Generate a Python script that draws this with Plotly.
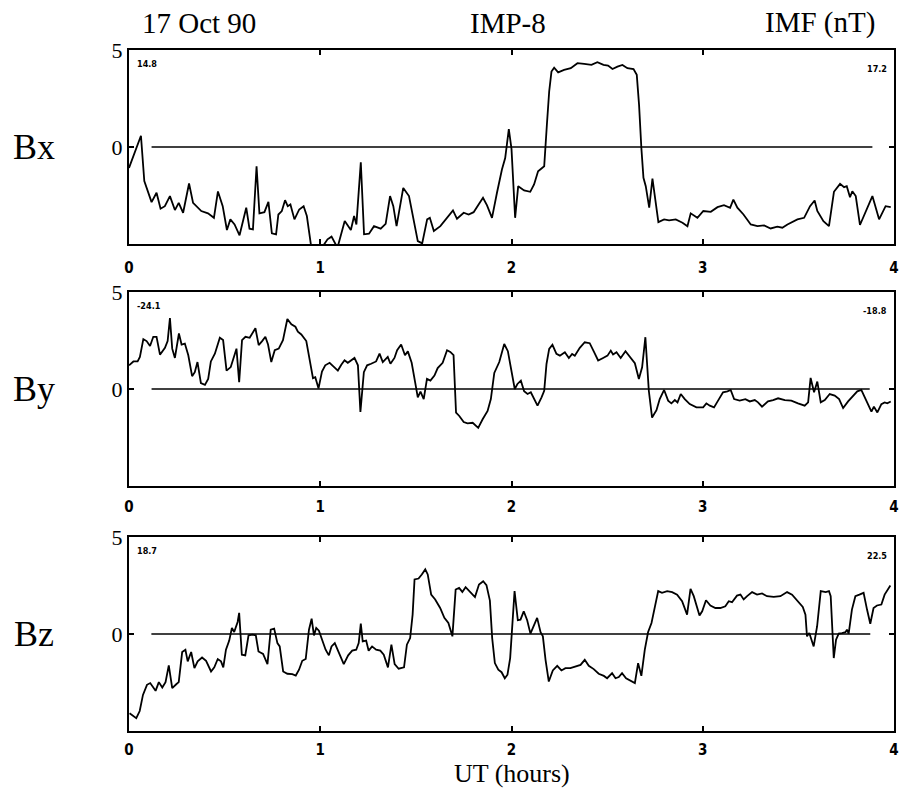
import plotly.graph_objects as go

# ---------------- data ----------------
bx_t = [0.0, 0.0625, 0.08, 0.118, 0.144, 0.165, 0.1875, 0.214, 0.24, 0.26, 0.283, 0.314, 0.335, 0.378,
        0.413, 0.444, 0.465, 0.49, 0.512, 0.53, 0.552, 0.578, 0.613, 0.63, 0.648, 0.667, 0.682, 0.708,
        0.729, 0.747, 0.769, 0.781, 0.799, 0.816, 0.83, 0.844, 0.865, 0.89, 0.913, 0.93, 0.951, 0.977,
        1.003, 1.038, 1.059, 1.09, 1.128, 1.16, 1.177, 1.189, 1.212, 1.229, 1.255, 1.281, 1.316, 1.342,
        1.365, 1.382, 1.399, 1.434, 1.464, 1.49, 1.51, 1.533, 1.559, 1.573, 1.594, 1.628, 1.663, 1.694,
        1.715, 1.75, 1.776, 1.802, 1.828, 1.851, 1.872, 1.898, 1.924, 1.95, 1.967, 1.986, 2.0,
        2.019, 2.035, 2.066, 2.098, 2.118, 2.139, 2.157, 2.171, 2.185, 2.197, 2.209, 2.223, 2.244, 2.275,
        2.31, 2.345, 2.38, 2.418, 2.449, 2.481, 2.505, 2.528, 2.554, 2.58, 2.606, 2.638, 2.655, 2.667,
        2.679, 2.69, 2.702, 2.72, 2.737, 2.754, 2.768, 2.798, 2.824, 2.859, 2.894, 2.92, 2.937, 2.972,
        3.003, 3.042, 3.077, 3.111, 3.143, 3.16, 3.181, 3.213, 3.251, 3.286, 3.321, 3.355, 3.39, 3.416,
        3.443, 3.495, 3.53, 3.561, 3.585, 3.599, 3.631, 3.66, 3.686, 3.718, 3.739, 3.753, 3.77, 3.782,
        3.8, 3.822, 3.852, 3.887, 3.922, 3.956, 3.983]
bx_v = [-1.08, 0.58, -1.76, -2.84, -2.36, -3.18, -3.05, -2.53, -3.25, -2.88, -3.39, -1.88, -2.88, -3.30,
        -3.42, -3.65, -2.29, -3.05, -4.28, -3.73, -3.99, -4.55, -3.13, -4.21, -4.25, -0.99, -3.42, -3.36,
        -2.83, -4.45, -4.50, -3.48, -3.30, -2.74, -3.05, -2.96, -3.73, -3.22, -3.05, -3.56, -5.02, -5.70,
        -5.27, -4.76, -4.62, -5.19, -3.82, -4.28, -3.56, -3.99, -0.79, -4.50, -4.47, -4.08, -4.21, -3.96,
        -2.53, -3.05, -4.08, -2.11, -2.53, -3.90, -4.85, -4.97, -3.73, -3.65, -4.33, -4.08, -3.65, -3.27,
        -3.70, -3.39, -3.48, -3.36, -2.96, -2.62, -3.01, -3.65, -2.36, -1.16, -0.57, 0.92, -0.10,
        -3.65, -2.02, -2.24, -2.31, -1.93, -1.25, -1.08, -0.99, 1.15, 2.86, 3.89, 4.09, 3.85, 3.97,
        4.06, 4.32, 4.28, 4.23, 4.37, 4.23, 4.20, 4.02, 4.14, 4.23, 4.06, 4.02, 3.72, 2.17,
        -0.05, -1.59, -2.02, -3.13, -1.63, -2.96, -3.87, -3.73, -3.78, -3.73, -3.90, -4.08, -3.42, -3.65,
        -3.30, -3.34, -3.10, -3.00, -3.13, -2.71, -3.13, -3.48, -3.99, -4.08, -4.04, -4.20, -4.11, -4.16,
        -3.99, -3.73, -3.65, -3.05, -2.76, -3.30, -3.82, -4.08, -2.31, -1.90, -2.07, -2.02, -2.59, -2.28,
        -2.53, -4.02, -3.30, -2.53, -3.73, -3.05, -3.10]

by_t = [0.0, 0.023, 0.045, 0.057, 0.075, 0.092, 0.11, 0.127, 0.144, 0.162, 0.188, 0.202, 0.214, 0.226,
        0.24, 0.261, 0.275, 0.292, 0.31, 0.33, 0.344, 0.358, 0.376, 0.397, 0.414, 0.428, 0.449, 0.475,
        0.492, 0.51, 0.532, 0.55, 0.562, 0.576, 0.591, 0.609, 0.631, 0.661, 0.678, 0.696, 0.713, 0.727,
        0.744, 0.762, 0.783, 0.805, 0.828, 0.849, 0.87, 0.883, 0.901, 0.927, 0.944, 0.962, 0.974, 0.991,
        1.009, 1.026, 1.049, 1.071, 1.092, 1.11, 1.127, 1.144, 1.179, 1.197, 1.21, 1.228, 1.245, 1.266,
        1.292, 1.31, 1.327, 1.353, 1.367, 1.388, 1.402, 1.423, 1.443, 1.458, 1.478, 1.496, 1.51, 1.524,
        1.541, 1.558, 1.576, 1.597, 1.614, 1.64, 1.663, 1.68, 1.697, 1.71, 1.727, 1.75, 1.77, 1.797,
        1.826, 1.849, 1.875, 1.892, 1.91, 1.936, 1.962, 1.981, 2.0, 2.017, 2.031, 2.049, 2.066, 2.084,
        2.101, 2.118, 2.136, 2.157, 2.171, 2.183, 2.197, 2.214, 2.235, 2.253, 2.279, 2.3, 2.317, 2.331,
        2.357, 2.383, 2.409, 2.432, 2.453, 2.479, 2.502, 2.519, 2.531, 2.549, 2.571, 2.596, 2.618, 2.645,
        2.666, 2.683, 2.70, 2.718, 2.735, 2.758, 2.775, 2.798, 2.819, 2.836, 2.854, 2.868, 2.885, 2.906,
        2.932, 2.967, 3.002, 3.019, 3.037, 3.059, 3.08, 3.106, 3.129, 3.146, 3.164, 3.193, 3.223, 3.246,
        3.272, 3.289, 3.31, 3.341, 3.368, 3.394, 3.429, 3.463, 3.498, 3.533, 3.551, 3.564, 3.582, 3.599,
        3.617, 3.638, 3.664, 3.69, 3.713, 3.734, 3.76, 3.786, 3.808, 3.829, 3.855, 3.882, 3.895, 3.913,
        3.934, 3.951, 3.965, 3.983]
by_v = [1.22, 1.42, 1.42, 1.65, 2.57, 2.47, 2.22, 2.69, 2.69, 1.77, 2.12, 2.47, 3.65, 2.08,
        1.60, 2.86, 2.29, 2.34, 1.74, 0.66, 0.87, 1.39, 0.30, 0.21, 0.52, 1.42, 1.82, 2.64,
        2.52, 0.95, 1.13, 1.65, 2.08, 0.35, 2.52, 2.69, 2.64, 3.13, 2.26, 2.47, 2.69, 2.29,
        1.39, 2.00, 2.08, 2.52, 3.61, 3.33, 3.21, 2.95, 2.81, 2.47, 1.48, 0.56, 0.61, 0.03,
        0.90, 1.22, 1.35, 1.13, 0.95, 1.25, 1.48, 1.35, 1.60, 1.22, -1.18, 0.87, 1.22, 1.30,
        1.42, 1.82, 1.39, 1.65, 1.30, 1.60, 2.00, 2.29, 1.74, 1.94, 1.35, 0.35, -0.43, -0.14,
        -0.52, 0.52, 0.43, 0.69, 1.08, 1.35, 2.00, 1.91, 1.74, -1.22, -1.39, -1.70, -1.77, -1.74,
        -2.00, -1.56, -1.13, -0.52, 0.83, 1.39, 2.32, 1.95, 1.00, 0.0, 0.26, 0.43, -0.12, -0.26,
        -0.17, -0.52, -0.86, -0.43, -0.09, 1.29, 2.07, 2.28, 1.81, 1.72, 1.90, 1.60, 1.81, 1.72,
        2.12, 2.41, 2.36, 1.90, 1.47, 1.60, 1.72, 1.98, 1.78, 1.90, 1.60, 1.95, 1.67, 1.33,
        0.52, 1.12, 2.67, -0.09, -1.47, -1.09, -0.52, -0.05, -0.60, -0.74, -0.57, -0.69, -0.26, -0.52,
        -0.78, -0.95, -0.95, -0.74, -0.86, -0.95, -0.60, -0.17, -0.12, -0.05, -0.52, -0.60, -0.52, -0.64,
        -0.57, -0.69, -0.91, -0.64, -0.57, -0.48, -0.57, -0.60, -0.74, -0.86, -0.69, 0.57, -0.17, 0.38,
        -0.69, -0.57, -0.26, -0.34, -0.52, -0.98, -0.64, -0.34, -0.12, -0.05, -0.60, -1.17, -0.91, -1.21,
        -0.78, -0.69, -0.74, -0.64]

bz_t = [0.003, 0.021, 0.038, 0.056, 0.073, 0.094, 0.111, 0.139, 0.156, 0.174, 0.191, 0.208, 0.226, 0.247,
        0.26, 0.278, 0.295, 0.307, 0.325, 0.342, 0.359, 0.382, 0.403, 0.429, 0.446, 0.464, 0.481, 0.493,
        0.507, 0.524, 0.538, 0.55, 0.568, 0.576, 0.59, 0.608, 0.625, 0.646, 0.663, 0.677, 0.701, 0.724,
        0.741, 0.759, 0.776, 0.788, 0.806, 0.828, 0.854, 0.872, 0.889, 0.906, 0.924, 0.941, 0.955, 0.967,
        0.979, 0.993, 1.01, 1.028, 1.045, 1.059, 1.076, 1.097, 1.123, 1.146, 1.167, 1.188, 1.201, 1.212,
        1.222, 1.24, 1.253, 1.271, 1.292, 1.314, 1.332, 1.354, 1.372, 1.389, 1.41, 1.438, 1.453, 1.47,
        1.483, 1.493, 1.514, 1.531, 1.549, 1.562, 1.58, 1.601, 1.627, 1.649, 1.67, 1.691, 1.708, 1.726,
        1.743, 1.76, 1.783, 1.809, 1.83, 1.852, 1.869, 1.887, 1.899, 1.913, 1.931, 1.948, 1.965, 1.979,
        1.993, 2.016, 2.033, 2.047, 2.064, 2.082, 2.099, 2.117, 2.134, 2.152, 2.164, 2.178, 2.195, 2.216,
        2.239, 2.261, 2.282, 2.308, 2.334, 2.361, 2.383, 2.404, 2.43, 2.456, 2.483, 2.5, 2.526, 2.544,
        2.561, 2.578, 2.599, 2.622, 2.645, 2.662, 2.679, 2.697, 2.714, 2.732, 2.749, 2.767, 2.787, 2.814,
        2.84, 2.866, 2.892, 2.918, 2.936, 2.953, 2.983, 2.997, 3.017, 3.04, 3.066, 3.092, 3.118, 3.136,
        3.153, 3.179, 3.197, 3.214, 3.232, 3.258, 3.284, 3.31, 3.336, 3.371, 3.406, 3.441, 3.467, 3.498,
        3.523, 3.537, 3.545, 3.557, 3.58, 3.598, 3.617, 3.643, 3.66, 3.669, 3.685, 3.697, 3.711, 3.728,
        3.746, 3.754, 3.763, 3.78, 3.798, 3.819, 3.841, 3.859, 3.876, 3.893, 3.911, 3.934, 3.951, 3.981]
bz_v = [-4.09, -4.21, -4.34, -3.97, -3.14, -2.62, -2.53, -2.93, -2.48, -2.76, -2.48, -1.62, -2.79, -2.59,
        -2.48, -0.93, -0.81, -1.41, -0.93, -1.76, -1.41, -1.21, -1.38, -1.93, -1.72, -1.29, -1.41, -1.72,
        -0.81, -0.34, 0.31, 0.10, 0.62, 1.09, -1.07, -1.10, -0.07, -0.03, -0.07, -0.90, -1.03, -1.55,
        0.22, 0.28, -0.47, -0.64, -1.93, -2.05, -2.07, -2.14, -1.84, -1.38, -1.29, 0.22, 0.79, -0.07,
        0.31, 0.17, -0.29, -0.81, -1.10, -0.64, -0.47, -0.98, -1.55, -1.10, -0.86, -0.81, -0.47, 0.53,
        -0.38, -0.34, -0.86, -0.64, -0.81, -0.86, -1.07, -1.72, -0.55, -1.55, -1.79, -1.72, -0.55, -0.21,
        1.00, 2.81, 2.86, 3.07, 3.33, 3.07, 2.03, 1.78, 1.34, 0.83, 0.57, -0.12, 2.29, 2.38,
        2.17, 2.41, 2.17, 1.90, 2.55, 2.72, 2.52, 1.72, -0.21, -1.50, -1.84, -1.97, -2.28, -2.10,
        -1.24, 2.21, 0.71, 0.74, 1.17, 0.71, 0.02, 0.43, 0.83, 0.09, -0.12, -1.33, -2.45, -1.88,
        -1.64, -1.88, -1.76, -1.76, -1.67, -1.59, -1.33, -1.64, -1.81, -2.05, -2.16, -2.28, -2.02, -2.28,
        -2.22, -2.02, -2.28, -2.40, -2.53, -1.50, -2.16, -0.81, 0.09, 0.57, 1.43, 2.21, 2.12, 2.21,
        2.16, 2.03, 1.69, 1.00, 2.33, 1.95, 0.95, 1.17, 1.74, 1.47, 1.34, 1.34, 1.43, 1.69,
        1.64, 1.98, 2.03, 1.78, 1.95, 2.16, 2.03, 2.09, 1.95, 1.91, 1.95, 2.16, 2.03, 1.69,
        1.40, 1.00, -0.12, 0.05, -0.64, 0.40, 2.21, 2.16, 2.21, 1.95, -1.24, -0.29, 0.02, 0.05,
        0.09, 0.22, 0.02, 1.26, 1.95, 2.03, 2.12, 1.26, 0.53, 1.34, 1.47, 1.52, 2.03, 2.50]

panel_names = ["Bx", "By", "Bz"]
corner_left = ["14.8", "-24.1", "18.7"]
corner_right = ["17.2", "-18.8", "22.5"]
zero_start = [0.118, 0.118, 0.117]
zero_end = [3.887, 3.873, 3.876]
x_ticks = [0, 1, 2, 3, 4]
y_ticks = [-5, 0, 5]
y_ticktext = ["", "0", "5"]

# ---------------- layout geometry ----------------
W, H = 899, 788
x_dom = [129 / W, 894 / W]
panels_px = [(50, 244), (292, 486), (537, 731)]
y_doms = [[1 - b / H, 1 - t / H] for t, b in panels_px]
x_label_standoff = [9, 6, 4]

series = [(bx_t, bx_v), (by_t, by_v), (bz_t, bz_v)]

fig = go.Figure()
serif = "Liberation Serif, Times New Roman, serif"
small = "DejaVu Sans Condensed, DejaVu Sans"

for i, (tt, vv) in enumerate(series):
    n = "" if i == 0 else str(i + 1)
    fig.add_trace(go.Scatter(x=tt, y=vv, mode="lines",
                             line=dict(color="black", width=1.8),
                             xaxis="x" + n, yaxis="y" + n, showlegend=False,
                             hoverinfo="skip"))
    # zero reference line
    fig.add_trace(go.Scatter(x=[zero_start[i], zero_end[i]], y=[0, 0], mode="lines",
                             line=dict(color="black", width=1.3),
                             xaxis="x" + n, yaxis="y" + n, showlegend=False,
                             hoverinfo="skip"))
    xa = dict(domain=x_dom, range=[0, 4], anchor="y" + n,
              tickvals=x_ticks, ticktext=[str(v) for v in x_ticks],
              ticks="inside", ticklen=5, tickwidth=1.5, tickcolor="black",
              showline=True, linecolor="black", linewidth=2, mirror="ticks",
              showgrid=False, zeroline=False, automargin=False,
              ticklabelstandoff=x_label_standoff[i],
              tickfont=dict(family=small, size=15, color="black", weight="bold"),
              fixedrange=True)
    ya = dict(domain=y_doms[i], range=[-5, 5], anchor="x" + n,
              tickvals=y_ticks, ticktext=y_ticktext,
              ticks="inside", ticklen=5, tickwidth=1.5, tickcolor="black",
              showline=True, linecolor="black", linewidth=2, mirror="ticks",
              showgrid=False, zeroline=False, automargin=False,
              tickfont=dict(family=serif, size=22, color="black"),
              fixedrange=True)
    fig.layout["xaxis" + n] = xa
    fig.layout["yaxis" + n] = ya

    top_px, bot_px = panels_px[i]
    # panel label on the left
    fig.add_annotation(text=panel_names[i], xref="paper", yref="paper",
                       x=34 / W, y=1 - ((top_px + bot_px) / 2) / H,
                       showarrow=False, font=dict(family=serif, size=36, color="black"),
                       xanchor="center", yanchor="middle")
    # corner numbers
    fig.add_annotation(text=corner_left[i], xref="x" + n + " domain", yref="y" + n + " domain",
                       x=0.008, y=0.93, showarrow=False, xanchor="left", yanchor="middle",
                       font=dict(family=small, size=9, color="black", weight="bold"))
    fig.add_annotation(text=corner_right[i], xref="x" + n + " domain", yref="y" + n + " domain",
                       x=0.993, y=0.90, showarrow=False, xanchor="right", yanchor="middle",
                       font=dict(family=small, size=9, color="black", weight="bold"))

# header texts
for txt, xc in [("17 Oct 90", 199), ("IMP-8", 508), ("IMF (nT)", 820)]:
    fig.add_annotation(text=txt, xref="paper", yref="paper", x=xc / W, y=1 - 23 / H,
                       showarrow=False, xanchor="center", yanchor="middle",
                       font=dict(family=serif, size=29, color="black"))
fig.add_annotation(text="UT (hours)", xref="paper", yref="paper", x=512 / W, y=1 - 773 / H,
                   showarrow=False, xanchor="center", yanchor="middle",
                   font=dict(family=serif, size=26, color="black"))

fig.update_layout(width=W, height=H, margin=dict(l=0, r=0, t=0, b=0, autoexpand=False),
                  paper_bgcolor="white", plot_bgcolor="white", showlegend=False)

fig.write_html("out.html",
               post_script="document.body.style.margin='0';document.body.style.overflow='hidden';")
